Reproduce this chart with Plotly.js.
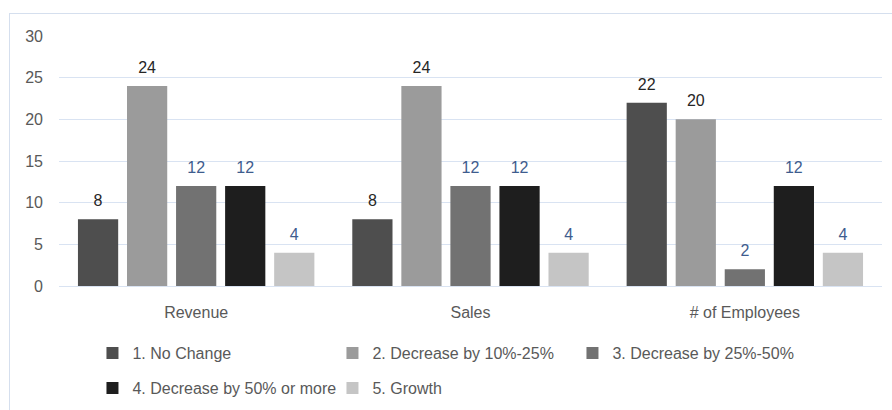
<!DOCTYPE html>
<html>
<head>
<meta charset="utf-8">
<script src="https://cdn.plot.ly/plotly-3.0.1.min.js"></script>
<style>
html,body{margin:0;padding:0;background:#fff;overflow:hidden;}
#chart{position:absolute;left:9px;top:13px;width:882px;height:396px;border-left:1px solid #d5dfee;border-top:1px solid #d5dfee;}
</style>
</head>
<body>
<div id="chart"></div>
<script>
var categories = ["Revenue", "Sales", "# of Employees"];
var seriesNames = ["1. No Change", "2. Decrease by 10%-25%", "3. Decrease by 25%-50%", "4. Decrease by 50% or more", "5. Growth"];
var noChange = [8, 8, 22];
var decrease10to25 = [24, 24, 20];
var decrease25to50 = [12, 12, 2];
var decrease50plus = [12, 12, 12];
var growth = [4, 4, 4];
var yTicks = [0, 5, 10, 15, 20, 25, 30];

var seriesValues = [noChange, decrease10to25, decrease25to50, decrease50plus, growth];
var barColors = ["#4e4e4e", "#9b9b9b", "#727272", "#1e1e1e", "#c5c5c5"];
var labelColors = ["#262626", "#262626", "#3e5c8e", "#3e5c8e", "#3e5c8e"];
var FONT = "Liberation Sans, Arial, sans-serif";
var GAP = 0.106, GROUPGAP = 0.18;

var traces = [];
for (var i = 0; i < 5; i++) {
  traces.push({
    type: "bar", name: seriesNames[i], x: categories, y: seriesValues[i],
    marker: {color: barColors[i], line: {width: 0}},
    legend: i < 3 ? "legend" : "legend2",
    hoverinfo: "skip"
  });
}
for (var j = 0; j < 5; j++) {
  traces.push({
    type: "scatter", mode: "markers+text", x: categories, y: seriesValues[j],
    text: seriesValues[j].map(String), textposition: "top center",
    textfont: {family: FONT, size: 16, color: labelColors[j]},
    marker: {size: 13, opacity: 0},
    offsetgroup: "s" + j, alignmentgroup: "lbl",
    showlegend: false, cliponaxis: false, hoverinfo: "skip"
  });
}

var legendBase = {orientation: "h", xref: "container", yref: "container", x: 0.0935, xanchor: "left",
  yanchor: "middle", entrywidth: 195, entrywidthmode: "pixels",
  font: {family: FONT, size: 16, color: "#595959"},
  bgcolor: "rgba(0,0,0,0)", itemclick: false, itemdoubleclick: false};

var layout = {
  width: 882, height: 396,
  margin: {l: 49, r: 10, t: 22, b: 124},
  paper_bgcolor: "#ffffff", plot_bgcolor: "#ffffff",
  barmode: "group", bargap: GAP, bargroupgap: GROUPGAP,
  scattermode: "group", scattergap: GAP,
  font: {family: FONT, size: 16, color: "#595959"},
  xaxis: {type: "category", showgrid: false, showline: false, zeroline: false, ticks: "",
          ticklabelstandoff: 15, tickfont: {family: FONT, size: 16, color: "#595959"}, fixedrange: true},
  yaxis: {range: [0, 30], tickvals: yTicks, showgrid: true, gridcolor: "#d9e3f2", gridwidth: 1,
          zeroline: true, zerolinecolor: "#d9e3f2", zerolinewidth: 1, showline: false, ticks: "",
          ticklabelstandoff: 15, tickfont: {family: FONT, size: 16, color: "#595959"}, fixedrange: true},
  showlegend: true,
  legend: Object.assign({}, legendBase, {y: 0.144}),
  legend2: Object.assign({}, legendBase, {y: 0.0556})
};

Plotly.newPlot("chart", traces, layout, {displayModeBar: false, staticPlot: true});
</script>
</body>
</html>
